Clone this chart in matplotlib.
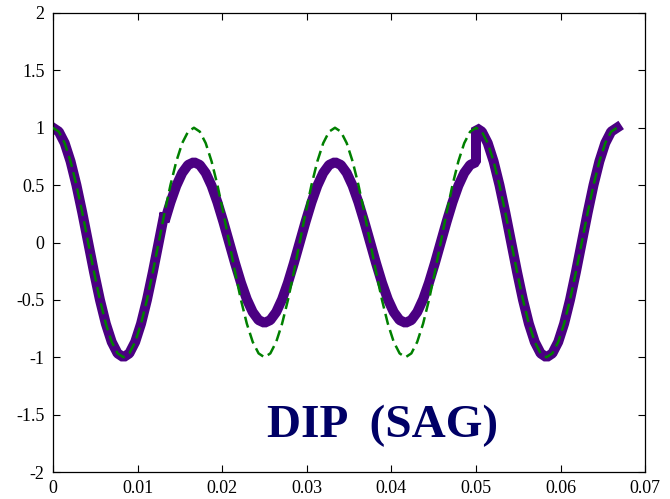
import numpy as np
import matplotlib
matplotlib.use("Agg")
import matplotlib.pyplot as plt

# 60 Hz supply, 24 samples per cycle, four cycles
t_end = 4 / 60
n_samples = 97
t = np.linspace(0.0, t_end, n_samples)

# nominal supply voltage (per unit)
nominal = [
    1.000, 0.966, 0.866, 0.707, 0.500, 0.259, 0.000, -0.259, -0.500, -0.707, -0.866, -0.966,
    -1.000, -0.966, -0.866, -0.707, -0.500, -0.259, 0.000, 0.259, 0.500, 0.707, 0.866, 0.966,
    1.000, 0.966, 0.866, 0.707, 0.500, 0.259, 0.000, -0.259, -0.500, -0.707, -0.866, -0.966,
    -1.000, -0.966, -0.866, -0.707, -0.500, -0.259, 0.000, 0.259, 0.500, 0.707, 0.866, 0.966,
    1.000, 0.966, 0.866, 0.707, 0.500, 0.259, 0.000, -0.259, -0.500, -0.707, -0.866, -0.966,
    -1.000, -0.966, -0.866, -0.707, -0.500, -0.259, 0.000, 0.259, 0.500, 0.707, 0.866, 0.966,
    1.000, 0.966, 0.866, 0.707, 0.500, 0.259, 0.000, -0.259, -0.500, -0.707, -0.866, -0.966,
    -1.000, -0.966, -0.866, -0.707, -0.500, -0.259, 0.000, 0.259, 0.500, 0.707, 0.866, 0.966,
    1.000,
]

# measured voltage: before the dip (samples 0..19)
before_dip = [
    1.000, 0.966, 0.866, 0.707, 0.500, 0.259, 0.000, -0.259, -0.500, -0.707, -0.866, -0.966,
    -1.000, -0.966, -0.866, -0.707, -0.500, -0.259, 0.000, 0.259,
]
# during the dip to 70 % (samples 19..72)
during_dip = [
    0.181, 0.350, 0.495, 0.606, 0.676,
    0.700, 0.676, 0.606, 0.495, 0.350, 0.181, 0.000, -0.181, -0.350, -0.495, -0.606, -0.676,
    -0.700, -0.676, -0.606, -0.495, -0.350, -0.181, 0.000, 0.181, 0.350, 0.495, 0.606, 0.676,
    0.700, 0.676, 0.606, 0.495, 0.350, 0.181, 0.000, -0.181, -0.350, -0.495, -0.606, -0.676,
    -0.700, -0.676, -0.606, -0.495, -0.350, -0.181, 0.000, 0.181, 0.350, 0.495, 0.606, 0.676,
    0.700,
]
# after recovery (samples 72..96)
after_dip = [
    1.000, 0.966, 0.866, 0.707, 0.500, 0.259, 0.000, -0.259, -0.500, -0.707, -0.866, -0.966,
    -1.000, -0.966, -0.866, -0.707, -0.500, -0.259, 0.000, 0.259, 0.500, 0.707, 0.866, 0.966,
    1.000,
]
dip_start, dip_end = 19, 72

meas_t = np.concatenate([t[:dip_start + 1], t[dip_start:dip_end + 1], t[dip_end:]])
meas_v = np.concatenate([before_dip, during_dip, after_dip])

x_ticks = [0, 0.01, 0.02, 0.03, 0.04, 0.05, 0.06, 0.07]
x_labels = ["0", "0.01", "0.02", "0.03", "0.04", "0.05", "0.06", "0.07"]
y_ticks = [-2, -1.5, -1, -0.5, 0, 0.5, 1, 1.5, 2]
y_labels = ["-2", "-1.5", "-1", "-0.5", "0", "0.5", "1", "1.5", "2"]

plt.rcParams["font.family"] = ["Liberation Serif", "DejaVu Serif"]

fig = plt.figure(figsize=(6.70, 4.99), dpi=100)
ax = fig.add_axes([0.079, 0.054, 0.884, 0.920])

ax.plot(meas_t, meas_v, color="#4b0082", lw=7.2, solid_joinstyle="bevel",
        solid_capstyle="projecting", zorder=2)
ax.plot(t, nominal, color="#008000", lw=1.8, dashes=(4.5, 2.2), zorder=3)

ax.set_xlim(0, 0.07)
ax.set_ylim(-2, 2)
ax.set_xticks(x_ticks)
ax.set_xticklabels(x_labels)
ax.set_yticks(y_ticks)
ax.set_yticklabels(y_labels)
ax.tick_params(direction="in", top=True, right=True, length=5, width=0.8,
               labelsize=13, pad=6)
for s in ax.spines.values():
    s.set_linewidth(0.9)

ax.text(0.0389, -1.6, "DIP  (SAG)", color="#000066", fontsize=34,
        fontweight="bold", ha="center", va="center")

fig.savefig("out.png", dpi=100)
